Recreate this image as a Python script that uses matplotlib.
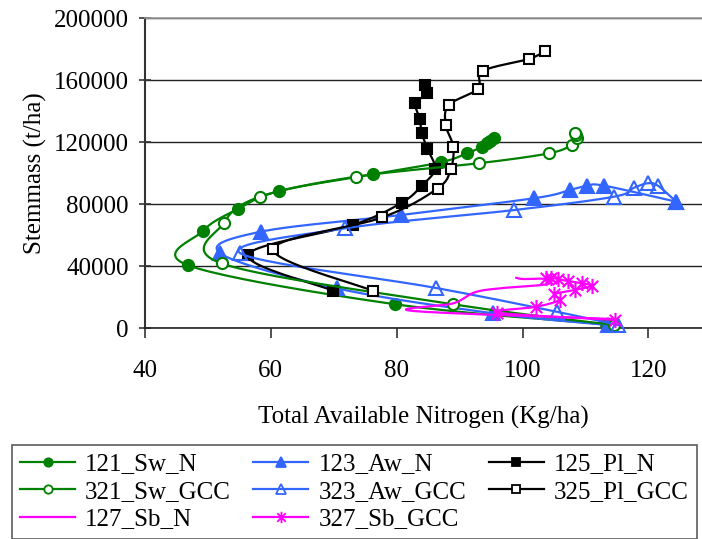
import numpy as np
import matplotlib
matplotlib.use("Agg")
import matplotlib.pyplot as plt
from matplotlib.lines import Line2D
from matplotlib.path import Path

plt.rcParams["font.family"] = ["Liberation Serif", "DejaVu Serif"]

# -----------------------------
# Data: total available N (kg/ha) vs stem mass
# -----------------------------
sw_n_x = [113.3, 79.8, 46.8, 49.3, 54.8, 61.4, 76.3, 87.0, 91.2, 93.6, 94.4, 94.8, 95.4]
sw_n_y = [2500, 15500, 40800, 63000, 77000, 88600, 99400, 107100, 112900, 117200, 119400, 121000, 122600]

aw_n_x = [113.6, 95.3, 70.5, 52.0, 58.4, 80.7, 101.8, 107.5, 110.2, 113.0, 124.4]
aw_n_y = [2100, 9700, 25800, 48400, 62300, 73100, 83900, 89200, 92000, 92000, 81700]

pl_n_x = [69.9, 56.4, 73.1, 80.8, 84.0, 86.1, 84.9, 84.0, 83.7, 83.0, 84.9, 84.5]
pl_n_y = [24300, 47300, 66700, 81000, 92000, 102800, 115700, 126200, 135000, 145200, 151600, 157000]

sw_gcc_x = [114.6, 89.0, 52.2, 52.6, 58.3, 73.5, 93.1, 104.2, 107.8, 108.7, 108.5, 108.3]
sw_gcc_y = [2100, 15500, 41900, 68100, 84900, 97800, 106500, 112900, 118300, 122600, 124700, 126200]

aw_gcc_x = [115.2, 105.4, 86.3, 55.2, 71.8, 98.7, 114.5, 117.7, 119.9, 121.5, 124.4]
aw_gcc_y = [2100, 10700, 26000, 48400, 64500, 76300, 84900, 90700, 93600, 92000, 81700]

pl_gcc_x = [76.3, 60.4, 77.7, 86.5, 88.6, 89.0, 87.8, 88.3, 92.9, 93.7, 101.0, 103.6]
pl_gcc_y = [24100, 51000, 71500, 90200, 102800, 117200, 131200, 144100, 154400, 166000, 173800, 178900]

sb_n_x = [114.4, 82.6, 89.0, 92.4, 96.4, 103.8, 103.8, 100.1, 99.0]
sb_n_y = [6000, 11200, 16100, 23200, 25800, 28400, 31800, 31800, 32600]

sb_gcc_x = [114.7, 95.9, 102.2, 105.9, 105.0, 108.3, 111.0, 109.4, 107.2, 105.6, 104.6, 103.8]
sb_gcc_y = [5400, 10100, 13900, 18300, 21900, 24700, 27500, 29000, 30500, 31800, 32600, 32200]

XMIN, XMAX = 40, 128.5
YMIN, YMAX = 0, 200000
FS = 18

fig = plt.figure(figsize=(7.02, 5.39), dpi=100)
ax = fig.add_axes([0.2061, 0.3909, 0.7939, 0.5751])
ax.set_xlim(XMIN, XMAX)
ax.set_ylim(YMIN, YMAX)

# axes size in inches, used so the smoothing works in screen space
W = 0.7939 * 7.02
H = 0.5751 * 5.39


def smooth(xs, ys, n=24):
    """Bezier smoothing through every point, done in screen units."""
    u = (np.asarray(xs, float) - XMIN) / (XMAX - XMIN) * W
    v = (np.asarray(ys, float) - YMIN) / (YMAX - YMIN) * H
    p = np.column_stack([u, v])
    out = [p[0]]
    t = np.linspace(0, 1, n)[1:, None]
    for i in range(len(p) - 1):
        p0 = p[i - 1] if i > 0 else p[i]
        p1 = p[i]
        p2 = p[i + 1]
        p3 = p[i + 2] if i + 2 < len(p) else p[i + 1]
        c1 = p1 + (p2 - p0) / 6
        c2 = p2 - (p3 - p1) / 6
        seg = ((1 - t) ** 3) * p1 + 3 * ((1 - t) ** 2) * t * c1 + 3 * (1 - t) * t ** 2 * c2 + t ** 3 * p2
        out.extend(seg)
    out = np.array(out)
    return out[:, 0] / W * (XMAX - XMIN) + XMIN, out[:, 1] / H * (YMAX - YMIN) + YMIN


GREEN = "#008000"
BLUE = "#3366FF"
MAGENTA = "#FF00FF"
BLACK = "#000000"

star = Path([(0, -1), (0, 1), (-0.75, -0.75), (0.75, 0.75), (-0.75, 0.75), (0.75, -0.75)],
            [Path.MOVETO, Path.LINETO, Path.MOVETO, Path.LINETO, Path.MOVETO, Path.LINETO])

# label, x, y, colour, marker, marker size, face colour
series = [
    ("121_Sw_N", sw_n_x, sw_n_y, GREEN, "o", 8, GREEN),
    ("123_Aw_N", aw_n_x, aw_n_y, BLUE, "^", 10, BLUE),
    ("125_Pl_N", pl_n_x, pl_n_y, BLACK, "s", 7.5, BLACK),
    ("321_Sw_GCC", sw_gcc_x, sw_gcc_y, GREEN, "o", 8, "white"),
    ("323_Aw_GCC", aw_gcc_x, aw_gcc_y, BLUE, "^", 10, "none"),
    ("325_Pl_GCC", pl_gcc_x, pl_gcc_y, BLACK, "s", 7.5, "white"),
    ("127_Sb_N", sb_n_x, sb_n_y, MAGENTA, None, 0, MAGENTA),
    ("327_Sb_GCC", sb_gcc_x, sb_gcc_y, MAGENTA, star, 11, MAGENTA),
]

handles = {}
z = 3
for label, xs, ys, col, mk, ms, fc in series:
    sx, sy = smooth(xs, ys)
    ax.plot(sx, sy, color=col, lw=1.6, zorder=z, clip_on=False)
    if mk is not None:
        ax.plot(xs, ys, ls="none", marker=mk, ms=ms, mfc=fc, mec=col, mew=1.5,
                zorder=z + 0.5, clip_on=False)
    handles[label] = Line2D([], [], color=col, lw=1.6, marker=mk, ms=ms * 0.75,
                            mfc=fc, mec=col, mew=1.3)
    z += 1

# -----------------------------
# Axes styling
# -----------------------------
ax.set_yticks(np.arange(0, 200001, 40000))
ax.set_xticks([40, 60, 80, 100, 120])
ax.yaxis.grid(True, color="#222222", lw=1.0)
ax.set_axisbelow(True)
ax.tick_params(axis="y", direction="inout", length=9, width=1.2, labelsize=FS, pad=7, colors="#333333",
               labelcolor="black")
ax.tick_params(axis="x", direction="out", length=7, width=1.2, labelsize=FS, pad=16, colors="#333333",
               labelcolor="black")
ax.spines["right"].set_visible(False)
ax.spines["top"].set_color("#999999")
ax.spines["top"].set_linewidth(1.2)
ax.spines["left"].set_color("#333333")
ax.spines["left"].set_linewidth(1.5)
ax.spines["bottom"].set_color("#222222")
ax.spines["bottom"].set_linewidth(1.2)

ax.set_xlabel("Total Available Nitrogen (Kg/ha)", fontsize=FS, labelpad=17)
ax.set_ylabel("Stemmass (t/ha)", fontsize=FS, labelpad=5)

order = ["121_Sw_N", "321_Sw_GCC", "127_Sb_N",
         "123_Aw_N", "323_Aw_GCC", "327_Sb_GCC",
         "125_Pl_N", "325_Pl_GCC"]
leg = fig.legend([handles[k] for k in order], order, ncol=3,
                 loc="upper left", bbox_to_anchor=(12 / 702, 1 - 445 / 539),
                 fontsize=FS, frameon=True, fancybox=False, edgecolor="#333333",
                 handlelength=2.2, handletextpad=0.4, columnspacing=0.9,
                 labelspacing=0.2, borderpad=0.32, borderaxespad=0)
leg.get_frame().set_linewidth(1.2)

fig.savefig("out.png", dpi=100)
